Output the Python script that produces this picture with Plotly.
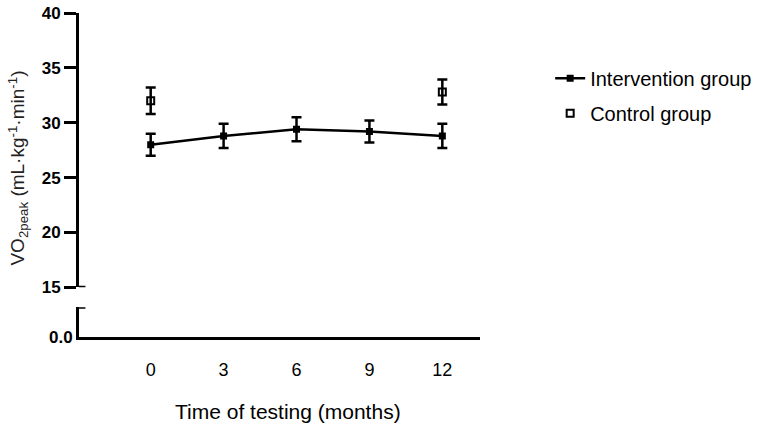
import plotly.graph_objects as go

months = [0, 3, 6, 9, 12]
intervention_mean = [28.0, 28.8, 29.4, 29.2, 28.8]
intervention_err = [1.0, 1.1, 1.1, 1.0, 1.1]

control_months = [0, 12]
control_mean = [32.0, 32.8]
control_err = [1.2, 1.15]

y_ticks = [15, 20, 25, 30, 35, 40]
x_ticks = [0, 3, 6, 9, 12]

FONT = "Liberation Sans, Arial, sans-serif"

fig = go.Figure()
fig.add_trace(go.Scatter(
    x=months, y=intervention_mean, name="Intervention group",
    mode="lines+markers",
    line=dict(color="black", width=2.5),
    marker=dict(symbol="square", size=7, color="black"),
    error_y=dict(type="data", array=intervention_err, color="black", thickness=2.5, width=5),
    legendgroup="a",
))
fig.add_trace(go.Scatter(
    x=control_months, y=control_mean, name="Control group",
    mode="markers",
    marker=dict(symbol="square-open", size=7, color="black", line=dict(width=2, color="black")),
    error_y=dict(type="data", array=control_err, color="black", thickness=2.5, width=5),
    legendgroup="b",
))
# invisible trace so the lower (broken) y-axis segment is drawn
fig.add_trace(go.Scatter(x=[None], y=[None], yaxis="y2", showlegend=False, hoverinfo="skip"))

fig.update_layout(
    width=768, height=428,
    margin=dict(l=79, r=288, t=13, b=91, autoexpand=False),
    plot_bgcolor="white", paper_bgcolor="white",
    font=dict(family=FONT, color="black"),
    showlegend=True,
    legend=dict(x=1.175, y=0.859, xanchor="left", yanchor="top",
                font=dict(size=20, family=FONT), tracegroupgap=6,
                bgcolor="rgba(0,0,0,0)"),
    xaxis=dict(
        range=[-2.95, 13.55], tickvals=x_ticks, ticktext=[str(t) for t in x_ticks],
        showgrid=False, zeroline=False, showline=True, linewidth=3, linecolor="black",
        ticks="outside", ticklen=14, tickcolor="rgba(0,0,0,0)",
        tickfont=dict(size=18, family=FONT),
        anchor="y2", automargin=False,
    ),
    yaxis=dict(
        domain=[0.1534, 1.0], range=[15, 40], tickvals=y_ticks,
        ticktext=["<b>%d</b>" % t for t in y_ticks],
        showgrid=False, zeroline=False, showline=True, linewidth=3, linecolor="black",
        ticks="outside", ticklen=12, tickwidth=3, tickcolor="black",
        tickfont=dict(size=17, family=FONT), automargin=False,
    ),
    yaxis2=dict(
        domain=[0.0, 0.0917], range=[0, 1], tickvals=[0], ticktext=["<b>0.0</b>"],
        showgrid=False, zeroline=False, showline=True, linewidth=3, linecolor="black",
        ticks="", tickfont=dict(size=17, family=FONT), automargin=False,
    ),
)

# break caps: 15 tick extending right, and top of the lower segment
fig.add_shape(type="line", xref="paper", yref="y", x0=0, x1=0.016, y0=15, y1=15,
              line=dict(color="black", width=3))
fig.add_shape(type="line", xref="paper", yref="y2", x0=-0.004, x1=0.016, y0=1, y1=1,
              line=dict(color="black", width=3))

fig.add_annotation(
    text="VO<sub>2peak</sub> (mL·kg<sup>-1</sup>·min<sup>-1</sup>)",
    xref="paper", yref="paper", x=-0.152, y=0.52, textangle=-90,
    showarrow=False, font=dict(size=19, family=FONT, color="#222"),
    xanchor="center", yanchor="middle",
)
fig.add_annotation(
    text="Time of testing (months)",
    xref="paper", yref="paper", x=0.52, y=-0.231,
    showarrow=False, font=dict(size=21, family=FONT, color="black"),
    xanchor="center", yanchor="middle",
)

fig.write_html("out.html", config={"displayModeBar": False},
               post_script="document.body.style.margin='0';document.body.style.overflow='hidden';")
